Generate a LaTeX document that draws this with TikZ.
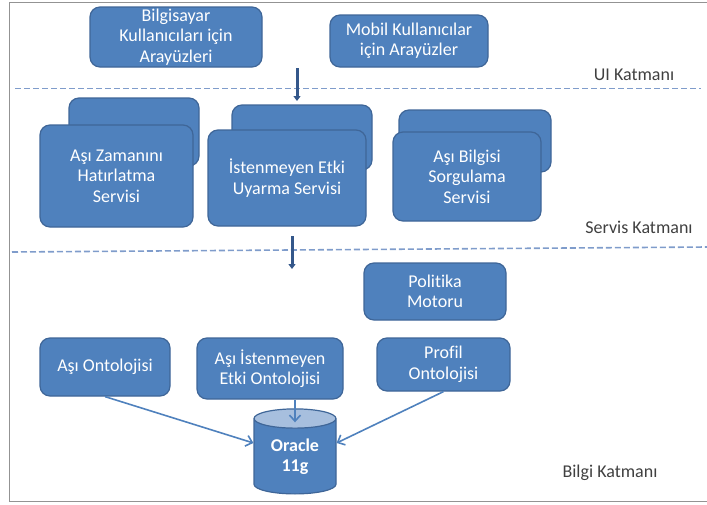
\documentclass[tikz,border=0pt]{standalone}
\usepackage{fontspec}
\setmainfont{Carlito}[Ligatures=NoCommon]
\usetikzlibrary{shapes.geometric,arrows.meta}
\definecolor{boxblue}{HTML}{4F81BD}
\definecolor{boxedge}{HTML}{3F6698}
\definecolor{toplight}{HTML}{A7BFDE}
\definecolor{sepline}{HTML}{7F9CCB}
\definecolor{feedblue}{HTML}{34578A}
\definecolor{layertext}{HTML}{404040}
\tikzset{
  tbox/.style={draw=boxedge, fill=boxblue, line width=1.2pt, rounded corners=10pt,
    text=white, align=center, inner sep=0pt, font=\fontsize{18}{20.5}\selectfont},
  layername/.style={text=layertext, font=\fontsize{18}{20}\selectfont},
  layerline/.style={sepline, line width=1.6pt, dash pattern=on 6pt off 3pt},
  feed/.style={feedblue, line width=3pt, -{Triangle[length=5pt,width=7pt]}},
  link/.style={boxblue, line width=1.6pt, -{Straight Barb[length=6pt,width=11pt]}},
}
\begin{document}
\begin{tikzpicture}[x=1pt, y=-1pt]
\useasboundingbox (0,0) rectangle (707,504);
\draw[gray!85, line width=1pt] (707,2) -- (9,2) -- (9,501) -- (707,501);

% UI Katmani
\node[tbox, minimum width=172, minimum height=60] (pc) at (176,37) {Bilgisayar\\Kullanıcıları için\\Arayüzleri};
\node[tbox, minimum width=158, minimum height=52] (mobil) at (409,41) {Mobil Kullanıcılar\\için Arayüzler};
\node[layername] (ui) at (634,75) {UI Katmanı};
\draw[layerline] (15,88.5) -- (701,88.5);

% Servis Katmani
\node[tbox, minimum width=130, minimum height=68] (back1) at (134,132) {};
\node[tbox, minimum width=153, minimum height=102] (svc1) at (116.5,176) {Aşı Zamanını\\Hatırlatma\\Servisi};
\node[tbox, minimum width=140, minimum height=65] (back2) at (302,137.5) {};
\node[tbox, minimum width=158, minimum height=96] (svc2) at (287,178) {İstenmeyen Etki\\Uyarma Servisi};
\node[tbox, minimum width=152, minimum height=62] (back3) at (475,141) {};
\node[tbox, minimum width=148, minimum height=89] (svc3) at (467,176.5) {Aşı Bilgisi\\Sorgulama\\Servisi};
\node[layername] (svc) at (639,227) {Servis Katmanı};
\draw[layerline] (12,252) -- (707,247);

% Bilgi Katmani
\node[tbox, minimum width=142, minimum height=57] (policy) at (435,291.5) {Politika\\Motoru};
\node[tbox, minimum width=130, minimum height=58] (ont1) at (105,367) {Aşı Ontolojisi};
\node[tbox, minimum width=146, minimum height=61] (ont2) at (270,368.5) {Aşı İstenmeyen\\Etki Ontolojisi};
\node[tbox, minimum width=133, minimum height=53] (ont3) at (443.5,364.5) {Profil\\Ontolojisi};
\node[cylinder, shape border rotate=90, aspect=0.4, draw=boxedge, line width=1.2pt,
    cylinder uses custom fill, cylinder body fill=boxblue, cylinder end fill=toplight,
    minimum width=82, minimum height=85, inner sep=0pt, text=white, align=center,
    font=\fontsize{18}{20.5}\selectfont\bfseries] (oracle) at (295,456.5) {Oracle\\11g};
\node[layername] (info) at (610,473) {Bilgi Katmanı};

\coordinate (ui-down) at (297,68);
\coordinate (svc-top) at (297,101);
\coordinate (svc-down) at (292,236);
\coordinate (info-top) at (292,269);
\draw[feed] (ui-down) -- (svc-top);
\draw[feed] (svc-down) -- (info-top);

\draw[link] (ont1.south) -- (oracle.162);
\draw[link] (ont2.south -| oracle.north) -- ([yshift=-14pt]oracle.north);
\draw[link] (ont3.south) -- (oracle.18);
\end{tikzpicture}
\end{document}
